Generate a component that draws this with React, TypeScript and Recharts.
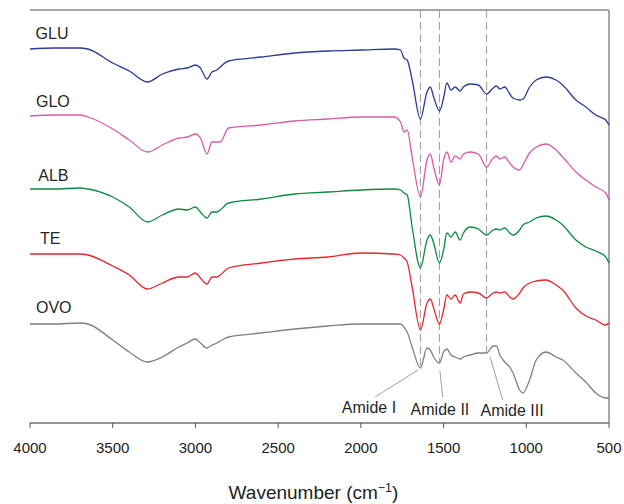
import { LineChart, Line, XAxis, YAxis, ReferenceLine, ReferenceDot, Label } from "recharts";

// wavenumber (cm-1) sample positions
const wavenumbers = [
  4000, 3850, 3700, 3650, 3500, 3400, 3290, 3200, 3100, 3050, 3000, 2970, 2930, 2900, 2870,
  2850, 2800, 2600, 2400, 2200, 2000, 1800, 1760, 1740, 1720, 1690, 1640, 1600, 1580, 1560,
  1525, 1500, 1480, 1455, 1430, 1400, 1380, 1340, 1290, 1240, 1200, 1180, 1160, 1130, 1100,
  1080, 1040, 1020, 980, 940, 880, 820, 780, 700, 640, 580, 520, 500,
];

// stacked transmittance, arbitrary units
const glu = [
  374, 375, 375, 374, 360, 352, 341, 349, 354, 355, 358, 355, 344, 351, 353,
  356, 362, 366, 370, 372, 373, 374, 373, 365, 363, 343, 304, 331, 336, 326,
  312, 325, 340, 333, 336, 332, 336, 339, 338, 329, 335, 337, 334, 336, 329,
  325, 323, 324, 336, 343, 346, 343, 338, 323, 316, 308, 303, 298,
];
const glo = [
  307, 308, 308, 306, 294, 283, 271, 278, 285, 286, 289, 285, 269, 281, 281,
  281, 295, 298, 302, 304, 306, 306, 301, 291, 293, 266, 226, 263, 269, 256,
  238, 263, 271, 261, 267, 264, 269, 271, 269, 256, 265, 267, 264, 266, 260,
  256, 253, 258, 270, 276, 279, 273, 266, 251, 243, 236, 230, 223,
];
const alb = [
  234, 234, 235, 234, 226, 216, 201, 208, 214, 213, 216, 211, 205, 211, 211,
  213, 220, 224, 229, 231, 233, 234, 233, 230, 228, 196, 155, 183, 188, 180,
  160, 173, 190, 186, 191, 183, 190, 196, 194, 188, 193, 194, 193, 195, 190,
  188, 193, 198, 201, 205, 207, 203, 198, 183, 176, 172, 166, 160,
];
const te = [
  169, 169, 169, 168, 157, 148, 134, 140, 146, 146, 150, 145, 139, 146, 146,
  148, 155, 160, 164, 166, 170, 169, 168, 165, 161, 136, 93, 120, 124, 115,
  99, 113, 128, 124, 128, 120, 129, 131, 130, 125, 130, 131, 130, 131, 126,
  124, 130, 135, 140, 142, 143, 138, 133, 115, 107, 103, 98, 100,
];
const ovo = [
  99, 99, 100, 99, 83, 71, 61, 66, 76, 80, 84, 80, 75, 78, 80,
  82, 86, 90, 94, 97, 99, 99, 99, 96, 91, 76, 55, 75, 73, 66,
  60, 71, 74, 68, 66, 64, 66, 68, 70, 70, 77, 77, 68, 61, 56,
  50, 33, 30, 43, 63, 71, 66, 63, 50, 41, 30, 25, 25,
];

const seriesNames = ["GLU", "GLO", "ALB", "TE", "OVO"];
const seriesValues = [glu, glo, alb, te, ovo];
const seriesColors = ["#2b3a98", "#d95aa6", "#0a8a3e", "#e8252b", "#7f7f7f"];
const nameAt = [
  [3966, 384],
  [3964, 316],
  [3950, 242],
  [3940, 179],
  [3964, 110],
];

const xTicks = [4000, 3500, 3000, 2500, 2000, 1500, 1000, 500];

const amideNames = ["Amide I", "Amide II", "Amide III"];
const amidePeaks = [1640, 1525, 1240];
const amideLineEnd = [56, 60, 70];
const leaderFrom = [
  [1655, 53],
  [1522, 52],
  [1219, 66],
];
const leaderTo = [
  [1914, 26],
  [1505, 26],
  [1143, 23],
];
const amideTextAt = [
  [1951, 10],
  [1522, 8],
  [1086, 7],
];

const data = wavenumbers.map((w, i) => {
  const row: Record<string, number> = { w };
  seriesNames.forEach((n, k) => (row[n] = seriesValues[k][i]));
  return row;
});

const textShape = (label: string, size: number, anchor: "start" | "middle") => (p: any) => (
  <text x={p.cx} y={p.cy} fontSize={size} fill="#262626" textAnchor={anchor}>
    {label}
  </text>
);

export default function App() {
  return (
    <div style={{ fontFamily: "'Liberation Sans', Arial, sans-serif" }}>
      <style>{"body{margin:0}"}</style>
      <LineChart width={624} height={504} data={data} margin={{ top: 10, right: 15, left: 30, bottom: 0 }}>
        <XAxis
          dataKey="w"
          type="number"
          domain={[500, 4000]}
          reversed
          ticks={xTicks}
          interval={0}
          height={81}
          tickSize={5}
          tickMargin={14}
          tick={{ fontSize: 15, fill: "#222" }}
          axisLine={{ stroke: "#6f6f6f", strokeWidth: 1.5 }}
          tickLine={{ stroke: "#555" }}
        >
          <Label
            content={(props: any) => {
              const vb = props.viewBox;
              return (
                <text x={vb.x + vb.width / 2 - 6} y={vb.y + 76} textAnchor="middle" fontSize={19} fill="#222">
                  Wavenumber (cm
                  <tspan dy={-7} fontSize={12.5}>
                    −1
                  </tspan>
                  <tspan dy={7}>)</tspan>
                </text>
              );
            }}
          />
        </XAxis>
        <YAxis
          type="number"
          domain={[0, 413]}
          width={0}
          tick={false}
          tickLine={false}
          axisLine={{ stroke: "#6f6f6f", strokeWidth: 1.5 }}
        />
        <ReferenceLine y={413} stroke="#8a8a8a" strokeWidth={1.5} />
        <ReferenceLine x={500} stroke="#8a8a8a" strokeWidth={1.5} />
        {amidePeaks.map((p, i) => (
          <ReferenceLine
            key={"d" + i}
            segment={[
              { x: p, y: 413 },
              { x: p, y: amideLineEnd[i] },
            ]}
            stroke="#9a9a9a"
            strokeDasharray="8 4"
          />
        ))}
        {leaderFrom.map((f, i) => (
          <ReferenceLine
            key={"l" + i}
            segment={[
              { x: f[0], y: f[1] },
              { x: leaderTo[i][0], y: leaderTo[i][1] },
            ]}
            stroke="#a0a0a0"
          />
        ))}
        {seriesNames.map((n, k) => (
          <Line
            key={n}
            dataKey={n}
            type="monotone"
            stroke={seriesColors[k]}
            strokeWidth={1.3}
            dot={false}
            isAnimationActive={false}
          />
        ))}
        {seriesNames.map((n, k) => (
          <ReferenceDot key={"n" + n} x={nameAt[k][0]} y={nameAt[k][1]} r={0} shape={textShape(n, 16, "start")} />
        ))}
        {amideNames.map((n, i) => (
          <ReferenceDot
            key={"a" + i}
            x={amideTextAt[i][0]}
            y={amideTextAt[i][1]}
            r={0}
            shape={textShape(n, 16, "middle")}
          />
        ))}
      </LineChart>
    </div>
  );
}
